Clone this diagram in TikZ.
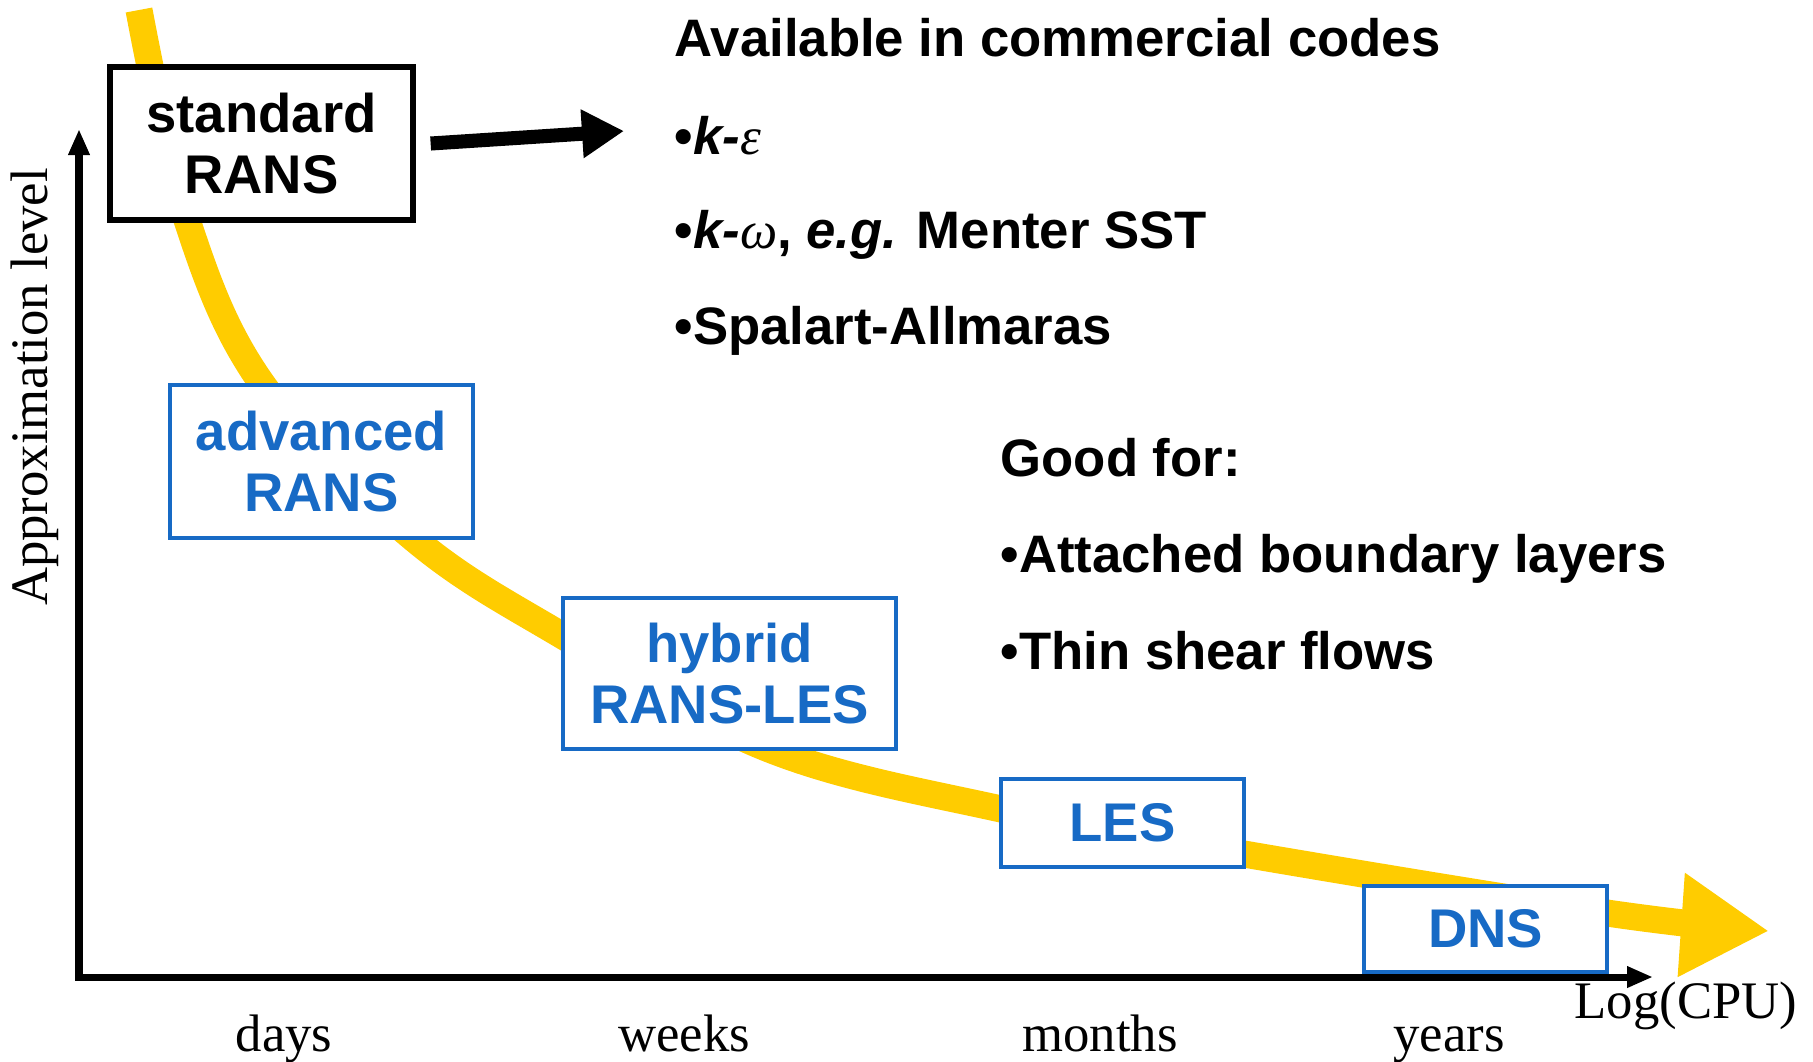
\documentclass[tikz,border=0pt]{standalone}
\usepackage{fontspec}
\setmainfont{Liberation Sans}
\newfontfamily\timesfont{Liberation Serif}
\usetikzlibrary{arrows.meta}
\definecolor{bandyellow}{RGB}{255,204,0}
\definecolor{boxblue}{RGB}{23,106,197}
\tikzstyle{modelbox} = [rectangle, draw=boxblue, line width=1.3pt, fill=white, text=boxblue, font=\fontsize{15.5}{17.5}\selectfont\bfseries, align=center, inner sep=0pt]
\tikzstyle{stdbox} = [modelbox, draw=black, text=black, line width=1.5pt]
\tikzstyle{infotext} = [anchor=base west, inner sep=0pt, font=\fontsize{15}{18}\selectfont\bfseries]
\tikzstyle{axislabel} = [inner sep=0pt, font=\fontsize{15}{18}\selectfont\timesfont]
\tikzstyle{axisline} = [line width=2pt, {Triangle[length=0.26cm,width=0.2cm]}-{Triangle[length=0.26cm,width=0.2cm]}]
\tikzstyle{arrow} = [line width=4pt, -{Triangle[length=0.42cm,width=0.46cm]}]
\tikzstyle{band} = [bandyellow, line width=0.27cm, -{Triangle[length=0.88cm,width=0.98cm]}]

\begin{document}
\begin{tikzpicture}
\useasboundingbox (0,0) rectangle (18.13,-10.61);

% yellow trend
\draw[band] plot[smooth, tension=0.6] coordinates {(1.39,-0.10) (1.87,-2.20) (2.63,-3.85) (4.13,-5.38) (5.63,-6.36) (7.69,-7.49) (10.01,-8.09) (12.44,-8.54) (16.07,-9.13) (17.69,-9.31)};

% axes
\coordinate (origin) at (0.79,-9.77);
\coordinate (ytip) at (0.79,-1.29);
\coordinate (xtip) at (16.53,-9.77);
\draw[axisline] (ytip) -- (origin) -- (xtip);

\node (ylab) [axislabel, rotate=90] at (0.35,-3.87) {Approximation level};
\node (xlab) [axislabel] at (16.86,-10.06) {Log(CPU)};
\node (days) [axislabel, anchor=base] at (2.84,-10.51) {days};
\node (weeks) [axislabel, anchor=base] at (6.84,-10.51) {weeks};
\node (months) [axislabel, anchor=base] at (11.00,-10.51) {months};
\node (years) [axislabel, anchor=base] at (14.49,-10.51) {years};

% models
\node (std) [stdbox, minimum width=3.03cm, minimum height=1.53cm] at (2.615,-1.435) {standard\\RANS};
\node (adv) [modelbox, minimum width=3.03cm, minimum height=1.53cm] at (3.215,-4.615) {advanced\\RANS};
\node (hyb) [modelbox, minimum width=3.33cm, minimum height=1.51cm] at (7.295,-6.735) {hybrid\\RANS-LES};
\node (les) [modelbox, minimum width=2.43cm, minimum height=0.88cm] at (11.225,-8.23) {LES};
\node (dns) [modelbox, minimum width=2.43cm, minimum height=0.86cm] at (14.855,-9.29) {DNS};

\coordinate (codes) at (6.24,-1.31);
\draw[arrow] ([xshift=0.15cm]std.east) -- (codes);

% notes
\node (avail) [infotext] at (6.74,-0.56) {Available in commercial codes};
\node (keps) [infotext] at (6.74,-1.54) {•\textit{k-}{\timesfont\itshape\mdseries ε}};
\node (komega) [infotext] at (6.74,-2.48) {•\textit{k-}{\timesfont\itshape\mdseries ω}, \textit{e.g.} Menter SST};
\node (sa) [infotext] at (6.74,-3.44) {•Spalart-Allmaras};
\node (good) [infotext] at (10.00,-4.76) {Good for:};
\node (abl) [infotext] at (10.00,-5.72) {•Attached boundary layers};
\node (tsf) [infotext] at (10.00,-6.69) {•Thin shear flows};

\end{tikzpicture}
\end{document}
